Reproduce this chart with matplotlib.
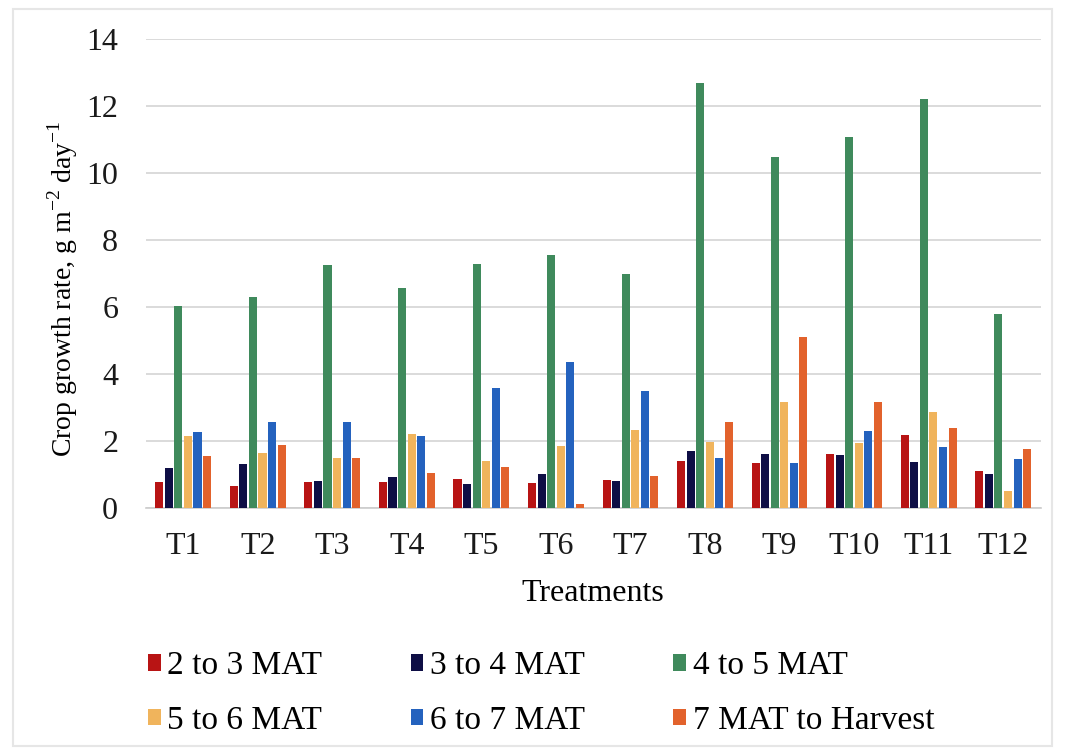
import matplotlib.pyplot as plt
import numpy as np
from matplotlib.patches import Rectangle

treatments = ['T1', 'T2', 'T3', 'T4', 'T5', 'T6', 'T7', 'T8', 'T9', 'T10', 'T11', 'T12']
labels = ['2 to 3 MAT', '3 to 4 MAT', '4 to 5 MAT', '5 to 6 MAT', '6 to 7 MAT', '7 MAT to Harvest']

mat_2_3 = [0.77, 0.66, 0.78, 0.78, 0.87, 0.75, 0.83, 1.40, 1.34, 1.61, 2.18, 1.10]
mat_3_4 = [1.20, 1.31, 0.80, 0.93, 0.72, 1.01, 0.82, 1.70, 1.63, 1.60, 1.37, 1.01]
mat_4_5 = [6.03, 6.30, 7.25, 6.58, 7.30, 7.55, 6.98, 12.69, 10.48, 11.08, 12.22, 5.80]
mat_5_6 = [2.15, 1.64, 1.49, 2.20, 1.40, 1.85, 2.33, 1.97, 3.16, 1.94, 2.87, 0.52]
mat_6_7 = [2.27, 2.57, 2.57, 2.15, 3.60, 4.36, 3.50, 1.49, 1.36, 2.30, 1.82, 1.46]
mat_7_h = [1.55, 1.88, 1.50, 1.04, 1.22, 0.13, 0.96, 2.57, 5.10, 3.16, 2.39, 1.76]

series = [mat_2_3, mat_3_4, mat_4_5, mat_5_6, mat_6_7, mat_7_h]
colors = ['#B81414', '#0E0E45', '#3F8A5C', '#F0B45C', '#2462BE', '#E2622C']

plt.rcParams['font.family'] = 'Liberation Serif'

fig = plt.figure(figsize=(10.65, 7.55), dpi=100)
ax = fig.add_axes([0.137, 0.327, 0.840, 0.621])

x = np.arange(len(treatments))
step = 0.128
width = 0.108
bars = []
for i, vals in enumerate(series):
    b = ax.bar(x + (i - 2.5) * step, vals, width, color=colors[i], label=labels[i], zorder=3)
    bars.append(b)

ax.set_xlim(-0.5, len(treatments) - 0.5)
ax.set_ylim(0, 14)
ax.set_yticks(range(0, 15, 2))
ax.set_xticks(x)
ax.set_xticklabels(treatments)
ax.tick_params(axis='both', length=0, labelsize=23, colors='#1a1a1a')
ax.tick_params(axis='y', pad=20)
ax.tick_params(axis='x', pad=17)
ax.grid(axis='y', color='#d4d4d4', linewidth=1.2, zorder=0)
for s in ['top', 'right', 'left']:
    ax.spines[s].set_visible(False)
ax.spines['bottom'].set_color('#cccccc')
ax.spines['bottom'].set_linewidth(1.2)

ax.set_ylabel('Crop growth rate, g m$^{\\mathregular{-2}}$ day$^{\\mathregular{-1}}$', fontsize=20)
ax.yaxis.set_label_coords(-0.074, 0.467)
ax.set_xlabel('Treatments', fontsize=23, labelpad=13)

order = [0, 3, 1, 4, 2, 5]
fig.legend([bars[i] for i in order], [labels[i] for i in order], ncol=3,
           loc='upper left', bbox_to_anchor=(0.139, 0.138), frameon=False,
           fontsize=24, handlelength=0.38, handleheight=0.38, handletextpad=0.2,
           columnspacing=2.65, labelspacing=0.72, borderpad=0, borderaxespad=0)

fig.patches.append(Rectangle((0.012, 0.012), 0.976, 0.976, transform=fig.transFigure,
                             fill=False, edgecolor='#e6e6e6', linewidth=1.5))

plt.savefig('out.png', dpi=100)
